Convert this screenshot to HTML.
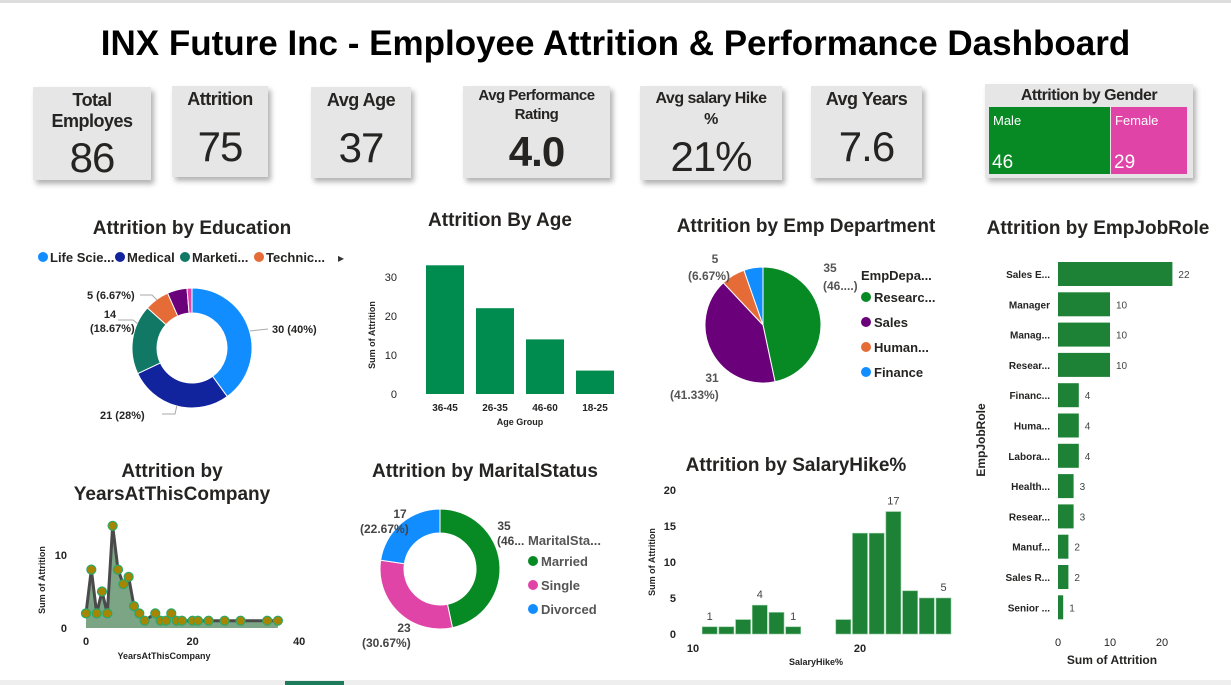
<!DOCTYPE html>
<html><head><meta charset="utf-8"><style>
body{margin:0;background:#fff;font-family:"Liberation Sans",sans-serif;}
#wrap{position:relative;width:1231px;height:685px;overflow:hidden;background:#fff;}
.kpi{position:absolute;background:#e6e6e6;box-shadow:3px 4px 5px rgba(0,0,0,.3);text-align:center;color:#252423;font-family:"Liberation Sans",sans-serif;}
.kpi .t{font-weight:bold;font-size:18px;line-height:21px;letter-spacing:-0.5px;}
.kpi .v{font-size:42px;position:absolute;left:0;right:0;letter-spacing:-1px;}
svg text{font-family:"Liberation Sans",sans-serif;}
</style></head><body>
<div id="wrap">
<div style="position:absolute;left:0;top:0;width:1231px;height:3px;background:#ddd"></div>
<div style="position:absolute;left:0;top:24px;width:1231px;text-align:center;font-weight:bold;font-size:35px;color:#000">INX Future Inc - Employee Attrition &amp; Performance Dashboard</div>

<div class="kpi" style="left:33px;top:87px;width:118px;height:93px"><div class="t" style="margin-top:3px">Total<br>Employes</div><div class="v" style="top:47px">86</div></div>
<div class="kpi" style="left:172px;top:86px;width:96px;height:91px"><div class="t" style="margin-top:3px">Attrition</div><div class="v" style="top:37px">75</div></div>
<div class="kpi" style="left:311px;top:87px;width:100px;height:91px"><div class="t" style="margin-top:3px">Avg Age</div><div class="v" style="top:37px">37</div></div>
<div class="kpi" style="left:463px;top:86px;width:147px;height:92px"><div class="t" style="margin-top:0px;font-size:15px;line-height:19px">Avg Performance<br>Rating</div><div class="v" style="top:42px;font-weight:bold">4.0</div></div>
<div class="kpi" style="left:640px;top:86px;width:142px;height:94px"><div class="t" style="margin-top:2px;font-size:16px">Avg salary Hike<br>%</div><div class="v" style="top:47px">21%</div></div>
<div class="kpi" style="left:811px;top:86px;width:111px;height:92px"><div class="t" style="margin-top:3px">Avg Years</div><div class="v" style="top:37px">7.6</div></div>
<div class="kpi" style="left:985px;top:84px;width:208px;height:94px">
 <div class="t" style="margin-top:1px;font-size:16px">Attrition by Gender</div>
 <div style="position:absolute;left:4px;top:23px;width:121px;height:67px;background:#078a24;color:#fff;text-align:left"><div style="font-size:13px;margin:6px 4px">Male</div><div style="position:absolute;bottom:0;left:3px;font-size:19px">46</div></div>
 <div style="position:absolute;left:126px;top:23px;width:76px;height:67px;background:#e044a7;color:#fff;text-align:left"><div style="font-size:13px;margin:6px 4px">Female</div><div style="position:absolute;bottom:0;left:3px;font-size:19px">29</div></div>
</div>

<svg id="s" width="1231" height="685" style="position:absolute;left:0;top:0"></svg>
<div style="position:absolute;left:0;top:680px;width:1231px;height:5px;background:#eee"></div>
<div style="position:absolute;left:285px;top:681px;width:59px;height:4px;background:#1d7a5a"></div>
</div>
<script>
// Education donut
const eduCats=["Life Sciences","Medical","Marketing","Technical Degree","Other","Human Resources"];
const eduVals=[30,21,14,5,4,1];
// Age bars
const ageCats=["36-45","26-35","46-60","18-25"];
const ageVals=[33,22,14,6];
const ageTicks=[0,10,20,30];
// Department pie
const deptCats=["Research","Sales","Human Resources","Finance"];
const deptVals=[35,31,5,4];
// Job roles
const roleCats=["Sales E...","Manager","Manag...","Resear...","Financ...","Huma...","Labora...","Health...","Resear...","Manuf...","Sales R...","Senior ..."];
const roleVals=[22,10,10,10,4,4,4,3,3,2,2,1];
const roleTicks=[0,10,20];
// Years at company
const yrsX=[0,1,2,3,4,5,6,7,8,9,10,11,13,14,15,16,17,18,20,21,23,26,29,34,36];
const yrsY=[2,8,2,5,2,14,8,6,7,3,2,1,2,1,1,2,1,1,1,1,1,1,1,1,1];
const yrsXTicks=[0,20,40];
const yrsYTicks=[0,10];
// Marital donut
const marCats=["Married","Single","Divorced"];
const marVals=[35,23,17];
// Salary hike
const salX=[11,12,13,14,15,16,19,20,21,22,23,24,25];
const salY=[1,1,2,4,3,1,2,14,14,17,6,5,5];
const salXTicks=[10,20];
const salYTicks=[0,5,10,15,20];

const S=document.getElementById('s');const NS='http://www.w3.org/2000/svg';
function el(tag,attrs,txt){const e=document.createElementNS(NS,tag);for(const k in attrs)e.setAttribute(k,attrs[k]);if(txt!==undefined)e.textContent=txt;S.appendChild(e);return e;}
function txt(x,y,s,size,opts){opts=opts||{};const e=el('text',Object.assign({x:x,y:y,'font-size':size,fill:opts.fill||'#252423','font-weight':opts.w||'normal','text-anchor':opts.a||'start'},opts.extra||{}),s);return e;}
function title(x,y,s,name){const e=txt(x,y,s,19,{w:'bold',a:'middle'});}
function arc(cx,cy,r,ri,a0,a1,color,name){
 const p=(a,rr)=>[cx+rr*Math.sin(a),cy-rr*Math.cos(a)];const lg=(a1-a0)>Math.PI?1:0;
 const [x0,y0]=p(a0,r),[x1,y1]=p(a1,r);let d;
 if(ri>0){const [x2,y2]=p(a1,ri),[x3,y3]=p(a0,ri);d=`M${x0},${y0}A${r},${r} 0 ${lg} 1 ${x1},${y1}L${x2},${y2}A${ri},${ri} 0 ${lg} 0 ${x3},${y3}Z`;}
 else d=`M${cx},${cy}L${x0},${y0}A${r},${r} 0 ${lg} 1 ${x1},${y1}Z`;
 const e=el('path',{d:d,fill:color,stroke:'#fff','stroke-width':1});
 
 
}
function pie(cx,cy,r,ri,vals,cols,prefix){const tot=vals.reduce((a,b)=>a+b,0);let a=0;vals.forEach((v,i)=>{const a1=a+v/tot*2*Math.PI;arc(cx,cy,r,ri,a,a1,cols[i],prefix+'-slice-'+i);a=a1;});}

// ---- Education
title(192,234,'Attrition by Education','education-title');
const eduCols=['#118dff','#12239e','#117865','#e66c37','#6b007b','#e044a7'];
[['Life Scie...',38],['Medical',115],['Marketi...',180],['Technic...',254]].forEach((l,i)=>{
 const c=el('circle',{cx:l[1]+5,cy:257,r:5,fill:eduCols[i]});
 const t=txt(l[1]+12,262,l[0],13,{w:'bold'});});
txt(338,262,'▸',12,{fill:'#333'});
pie(192,348,60,35,eduVals,eduCols,'education');
const eduTot=eduVals.reduce((a,b)=>a+b,0);
txt(272,333,eduVals[0]+' ('+Math.round(eduVals[0]/eduTot*100)+'%)',11,{w:'bold'});
txt(100,419,eduVals[1]+' ('+Math.round(eduVals[1]/eduTot*100)+'%)',11,{w:'bold'});
txt(110,318,String(eduVals[2]),11,{w:'bold',a:'middle'});txt(90,332,'('+(eduVals[2]/eduTot*100).toFixed(2)+'%)',11,{w:'bold'});
txt(87,299,eduVals[3]+' ('+(eduVals[3]/eduTot*100).toFixed(2)+'%)',11,{w:'bold'});
el('polyline',{points:'140,295 152,295 157,300',fill:'none',stroke:'#aaa'});
el('polyline',{points:'118,320 133,320 138,324',fill:'none',stroke:'#aaa'});
el('polyline',{points:'250,331 268,329',fill:'none',stroke:'#aaa'});
el('polyline',{points:'162,414 175,414 177,405',fill:'none',stroke:'#aaa'});

// ---- Age bars
title(500,226,'Attrition By Age','age-title');
const ay=v=>394-v*3.9;
ageTicks.forEach(t=>txt(397,ay(t)+4,String(t),11,{a:'end'}));
ageCats.forEach((c,i)=>{const x=426+i*50;const r=el('rect',{x:x,y:ay(ageVals[i]),width:38,height:394-ay(ageVals[i]),fill:'#008b4f'});
 
 txt(x+19,411,c,10,{w:'bold',a:'middle'});});
txt(520,425,'Age Group',9,{w:'bold',a:'middle'});
txt(0,0,'Sum of Attrition',9,{w:'bold',a:'middle',extra:{transform:'translate(375,335) rotate(-90)'}});

// ---- Department pie
title(806,232,'Attrition by Emp Department','dept-title');
const deptCols=['#078a24','#6b007b','#e66c37','#118dff'];
pie(763,325,58,0,deptVals,deptCols,'dept');
const dTot=deptVals.reduce((a,b)=>a+b,0);
txt(830,272,String(deptVals[0]),12,{w:'bold',fill:'#555',a:'middle'});txt(823,290,'(46....)',12,{w:'bold',fill:'#555'});
txt(715,263,String(deptVals[2]),12,{w:'bold',fill:'#555',a:'middle'});txt(688,280,'('+(deptVals[2]/dTot*100).toFixed(2)+'%)',12,{w:'bold',fill:'#555'});
txt(712,382,String(deptVals[1]),12,{w:'bold',fill:'#555',a:'middle'});txt(670,399,'('+(deptVals[1]/dTot*100).toFixed(2)+'%)',12,{w:'bold',fill:'#555'});
txt(861,280,'EmpDepa...',13,{w:'bold'});
['Researc...','Sales','Human...','Finance'].forEach((l,i)=>{el('circle',{cx:866,cy:297+i*25,r:5,fill:deptCols[i]});
 const t=txt(874,302+i*25,l,13,{w:'bold'});});

// ---- Job role bars
title(1098,234,'Attrition by EmpJobRole','jobrole-title');
const rx=v=>1058+v*5.2;
roleCats.forEach((c,i)=>{const yc=274+i*30.3;const r=el('rect',{x:1058,y:yc-12,width:rx(roleVals[i])-1058,height:24,fill:'#1e8236'});
 
 txt(1050,yc+4,c,10,{w:'bold',a:'end'});txt(rx(roleVals[i])+6,yc+4,String(roleVals[i]),10,{fill:'#444'});});
roleTicks.forEach(t=>txt(rx(t),646,String(t),11,{a:'middle'}));
txt(1112,664,'Sum of Attrition',12,{w:'bold',a:'middle'});
txt(0,0,'EmpJobRole',12,{w:'bold',a:'middle',extra:{transform:'translate(985,440) rotate(-90)'}});

// ---- Years at company
title(172,477,'Attrition by','years-title-1');title(172,500,'YearsAtThisCompany','years-title-2');
const yx=v=>86+v*5.33, yy=v=>628-v*7.3;
let pts=yrsX.map((x,i)=>yx(x)+','+yy(yrsY[i])).join(' ');
el('polygon',{points:yx(yrsX[0])+','+yy(0)+' '+pts+' '+yx(yrsX[yrsX.length-1])+','+yy(0),fill:'#7ba585'});
const ln=el('polyline',{points:pts,fill:'none',stroke:'#4a4a4a','stroke-width':3});
yrsX.forEach((x,i)=>{const c=el('circle',{cx:yx(x),cy:yy(yrsY[i]),r:4.5,fill:'#a68500',stroke:'#2aa86a','stroke-width':1.2});});
yrsXTicks.forEach(t=>txt(yx(t),645,String(t),11,{a:'middle',w:'bold'}));
yrsYTicks.forEach(t=>txt(67,yy(t)+4,String(t),11,{a:'end',w:'bold'}));
txt(164,659,'YearsAtThisCompany',9,{w:'bold',a:'middle'});
txt(0,0,'Sum of Attrition',9,{w:'bold',a:'middle',extra:{transform:'translate(45,580) rotate(-90)'}});

// ---- Marital donut
title(485,477,'Attrition by MaritalStatus','marital-title');
const marCols=['#078a24','#e044a7','#118dff'];
pie(440,569,60,36,marVals,marCols,'marital');
const mTot=marVals.reduce((a,b)=>a+b,0);
txt(504,530,String(marVals[0]),12,{w:'bold',fill:'#444',a:'middle'});txt(497,545,'(46...',12,{w:'bold',fill:'#444'});
txt(400,518,String(marVals[2]),12,{w:'bold',fill:'#444',a:'middle'});txt(360,533,'('+(marVals[2]/mTot*100).toFixed(2)+'%)',12,{w:'bold',fill:'#444'});
txt(404,632,String(marVals[1]),12,{w:'bold',fill:'#444',a:'middle'});txt(362,647,'('+(marVals[1]/mTot*100).toFixed(2)+'%)',12,{w:'bold',fill:'#444'});
txt(528,545,'MaritalSta...',13,{w:'bold',fill:'#555'});
['Married','Single','Divorced'].forEach((l,i)=>{el('circle',{cx:533,cy:561+i*24,r:5,fill:marCols[i]});
 const t=txt(541,566+i*24,l,13,{w:'bold',fill:'#555'});});

// ---- Salary hike
title(796,471,'Attrition by SalaryHike%','salary-title');
const sx=v=>693+(v-10)*16.7, sy=v=>634-v*7.2;
salX.forEach((x,i)=>{const r=el('rect',{x:sx(x)-7.5,y:sy(salY[i]),width:15,height:634-sy(salY[i]),fill:'#1e8236',stroke:'#8cc79a','stroke-width':0.6});
 });
[[0,1],[3,4],[5,1],[9,17],[12,5]].forEach(p=>txt(sx(salX[p[0]]),sy(salY[p[0]])-7,String(salY[p[0]]),11,{a:'middle',fill:'#444'}));
salXTicks.forEach(t=>txt(sx(t),652,String(t),11,{a:'middle',w:'bold'}));
salYTicks.forEach(t=>txt(676,sy(t)+4,String(t),11,{a:'end',w:'bold'}));
txt(816,665,'SalaryHike%',9,{w:'bold',a:'middle'});
txt(0,0,'Sum of Attrition',9,{w:'bold',a:'middle',extra:{transform:'translate(655,562) rotate(-90)'}});
</script>
</body></html>
